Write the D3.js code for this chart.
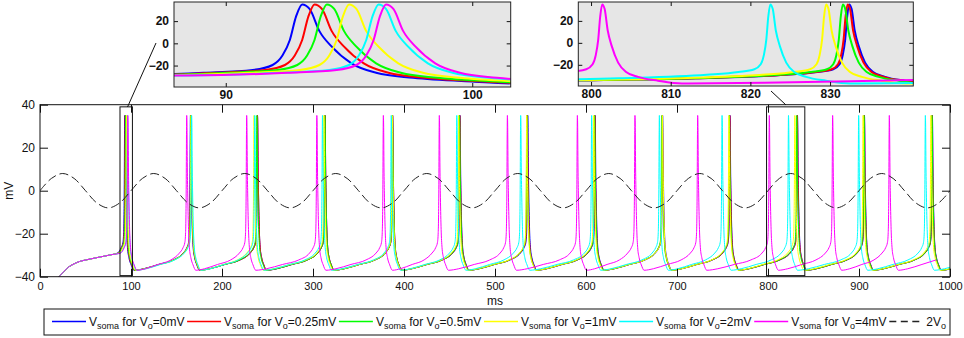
<!DOCTYPE html>
<html>
<head>
<meta charset="utf-8">
<script src="https://cdn.jsdelivr.net/npm/d3@7"></script>
<style>
body { margin: 0; background: #fff; }
svg { display: block; font-family: "Liberation Sans", Arial, sans-serif; }
text { white-space: pre; }
</style>
</head>
<body>
<svg width="964" height="338"></svg>
<script>
//spike peak times (ms), one list per V_o
var spikes_0   = [93.1, 165.3, 239.0, 313.2, 387.5, 461.5, 536.0, 610.0, 684.2, 758.2, 832.4, 906.0, 980.6];
var spikes_025 = [93.6, 165.6, 239.0, 313.2, 387.5, 461.3, 535.5, 609.7, 683.8, 758.0, 832.2, 905.8, 980.4];
var spikes_05  = [94.1, 165.9, 238.3, 313.0, 387.3, 461.0, 535.0, 609.4, 683.5, 757.5, 831.6, 905.5, 980.2];
var spikes_1   = [95.0, 166.0, 235.2, 312.0, 387.0, 460.0, 534.8, 608.5, 684.0, 757.0, 829.5, 904.5, 979.0];
var spikes_2   = [96.2, 166.6, 236.0, 310.4, 386.0, 458.0, 528.2, 606.2, 680.6, 749.5, 822.5, 899.6, 972.9];
var spikes_4   = [96.5, 161.2, 227.1, 304.2, 377.3, 438.8, 513.6, 590.5, 653.8, 722.7, 801.4, 871.0, 933.3];

//shape of one spike: [ms from peak, mV]
var spikeShape = [[-8, -29], [-4, -26.5], [-2, -24], [-1.2, -19.5], [-0.8, -11], [-0.5, 3], [-0.25, 24],
                  [0, 35], [0.3, 31], [0.7, 11], [1.2, -3], [2, -18], [3, -26.5], [4.5, -31], [7, -34.5], [10, -37]];
//slow recovery between spikes: [fraction of the gap, mV]
var recovery = [[0.2, -36.3], [0.5, -34.3], [0.8, -32.2]];
//start of the run before the first spike: [ms, mV]
var onset = [[15, -43], [22, -39.5], [30, -36], [40, -33.5], [55, -31.8], [70, -30.5], [78, -29.8]];

//2Vo drive, sampled every 12.5 ms from 0 to 1000
var driveStep = 12.5;
var drive = [0, 5.7, 8, 5.7, 0, -5.7, -8, -5.7, 0, 5.7, 8, 5.7, 0, -5.7, -8, -5.7,
             0, 5.7, 8, 5.7, 0, -5.7, -8, -5.7, 0, 5.7, 8, 5.7, 0, -5.7, -8, -5.7,
             0, 5.7, 8, 5.7, 0, -5.7, -8, -5.7, 0, 5.7, 8, 5.7, 0, -5.7, -8, -5.7,
             0, 5.7, 8, 5.7, 0, -5.7, -8, -5.7, 0, 5.7, 8, 5.7, 0, -5.7, -8, -5.7,
             0, 5.7, 8, 5.7, 0, -5.7, -8, -5.7, 0, 5.7, 8, 5.7, 0, -5.7, -8, -5.7, 0];

var voLabels = ["0", "0.25", "0.5", "1", "2", "4"];
var xTicks = [0, 100, 200, 300, 400, 500, 600, 700, 800, 900, 1000];
var yTicks = [-40, -20, 0, 20, 40];
var inset1Ticks = [90, 100];
var inset2Ticks = [800, 810, 820, 830];
var insetYTicks = [-20, 0, 20];

var allSpikes = [spikes_0, spikes_025, spikes_05, spikes_1, spikes_2, spikes_4];
var colors = ["#0000ff", "#ff0000", "#00ff00", "#ffff00", "#00ffff", "#ff00ff"];

var svg = d3.select("svg");

//turn spike times into a trace
function buildTrace(spikes) {
    var pts = onset.slice();
    var meanGap = (spikes[spikes.length - 1] - spikes[0]) / (spikes.length - 1);
    spikes.forEach(function(s, i) {
        spikeShape.forEach(function(p) { pts.push([s + p[0], p[1]]); });
        var next = i < spikes.length - 1 ? spikes[i + 1] : s + meanGap;
        var a = s + 10, b = next - 8;
        recovery.forEach(function(r) { pts.push([a + r[0] * (b - a), r[1]]); });
    });
    return pts;
}
var traces = allSpikes.map(buildTrace);

var x = d3.scaleLinear().domain([0, 1000]).range([40, 950]);
var y = d3.scaleLinear().domain([-40, 40]).range([276.7, 104.7]);

var in1 = {
    x: d3.scaleLinear().domain([87.9, 101.56]).range([174, 510.7]),
    y: d3.scaleLinear().domain([-39.3, 37.2]).range([87, 2]),
    ticks: inset1Ticks, id: "c1"
};
var in2 = {
    x: d3.scaleLinear().domain([798.4, 840.45]).range([578.3, 913.3]),
    y: d3.scaleLinear().domain([-39.3, 37.2]).range([86, 2]),
    ticks: inset2Ticks, id: "c2"
};

var defs = svg.append("defs");
function addClip(id, xs, ys) {
    defs.append("clipPath").attr("id", id).append("rect")
        .attr("x", xs.range()[0]).attr("y", ys.range()[1])
        .attr("width", xs.range()[1] - xs.range()[0])
        .attr("height", ys.range()[0] - ys.range()[1]);
}
addClip("cm", x, y);
addClip(in1.id, in1.x, in1.y);
addClip(in2.id, in2.x, in2.y);

function drawTraces(g, xs, ys, w) {
    var line = d3.line()
        .x(function(d) { return xs(d[0]); })
        .y(function(d) { return ys(d[1]); })
        .curve(d3.curveMonotoneX);
    g.selectAll("path.trace")
        .data(traces)
        .enter().append("path")
        .attr("class", "trace")
        .attr("d", line)
        .attr("fill", "none")
        .attr("stroke", function(d, i) { return colors[i]; })
        .attr("stroke-width", w);
}

//main axes
svg.append("rect")
    .attr("x", 40).attr("y", y(40)).attr("width", 910).attr("height", y(-40) - y(40))
    .attr("fill", "#fff");

var plot = svg.append("g").attr("clip-path", "url(#cm)");
drawTraces(plot, x, y, 1);

var driveLine = d3.line()
    .x(function(d, i) { return x(i * driveStep); })
    .y(function(d) { return y(d); })
    .curve(d3.curveCatmullRom);
plot.append("path")
    .attr("d", driveLine(drive))
    .attr("fill", "none")
    .attr("stroke", "#222")
    .attr("stroke-width", 1)
    .attr("stroke-dasharray", "9,4");

function styleAxis(g, size, bold) {
    g.select(".domain").remove();
    g.selectAll(".tick line").attr("stroke", "#111");
    g.attr("font-family", "'Liberation Sans', Arial, sans-serif")
     .attr("font-size", size)
     .attr("font-weight", bold ? "bold" : "normal");
    g.selectAll(".tick text").attr("fill", "#111");
}

var fmt = d3.format("d");
svg.append("g").attr("transform", "translate(0," + y(-40) + ")")
    .call(d3.axisBottom(x).tickValues(xTicks).tickSize(-8).tickPadding(6).tickFormat(fmt))
    .call(styleAxis, 11);
svg.append("g").attr("transform", "translate(0," + y(40) + ")")
    .call(d3.axisTop(x).tickValues(xTicks).tickSize(-8).tickFormat(""))
    .call(styleAxis, 11);
svg.append("g").attr("transform", "translate(40,0)")
    .call(d3.axisLeft(y).tickValues(yTicks).tickSize(-8).tickPadding(5).tickFormat(fmt))
    .call(styleAxis, 12);
svg.append("g").attr("transform", "translate(950,0)")
    .call(d3.axisRight(y).tickValues(yTicks).tickSize(-8).tickFormat(""))
    .call(styleAxis, 12);

svg.append("rect")
    .attr("x", 40).attr("y", y(40)).attr("width", 910).attr("height", y(-40) - y(40))
    .attr("fill", "none").attr("stroke", "#111").attr("stroke-width", 1);

svg.append("text")
    .attr("x", 495).attr("y", 305)
    .attr("text-anchor", "middle").attr("font-size", 12).attr("fill", "#111")
    .text("ms");
svg.append("text")
    .attr("transform", "translate(13," + y(0) + ") rotate(-90)")
    .attr("text-anchor", "middle").attr("font-size", 12).attr("fill", "#111")
    .text("mV");

//zoom boxes on the main axes and their connectors
[in1, in2].forEach(function(ins) {
    var d = ins.x.domain();
    svg.append("rect")
        .attr("x", x(d[0])).attr("y", y(39))
        .attr("width", x(d[1]) - x(d[0])).attr("height", y(-39.5) - y(39))
        .attr("fill", "none").attr("stroke", "#111").attr("stroke-width", 1);
});
svg.append("line").attr("x1", 156).attr("y1", 43).attr("x2", 127.5).attr("y2", 107)
    .attr("stroke", "#111");
svg.append("line").attr("x1", 771).attr("y1", 91).attr("x2", 786).attr("y2", 105)
    .attr("stroke", "#111");

//insets
[in1, in2].forEach(function(ins) {
    var xr = ins.x.range(), yr = ins.y.range();
    svg.append("rect")
        .attr("x", xr[0]).attr("y", yr[1]).attr("width", xr[1] - xr[0]).attr("height", yr[0] - yr[1])
        .attr("fill", "#e6e6e6");
    var g = svg.append("g").attr("clip-path", "url(#" + ins.id + ")");
    drawTraces(g, ins.x, ins.y, 2);

    svg.append("g").attr("transform", "translate(0," + yr[0] + ")")
        .call(d3.axisBottom(ins.x).tickValues(ins.ticks).tickSize(-4).tickPadding(3).tickFormat(fmt))
        .call(styleAxis, 12, true);
    svg.append("g").attr("transform", "translate(0," + yr[1] + ")")
        .call(d3.axisTop(ins.x).tickValues(ins.ticks).tickSize(-4).tickFormat(""))
        .call(styleAxis, 12, true);
    svg.append("g").attr("transform", "translate(" + xr[0] + ",0)")
        .call(d3.axisLeft(ins.y).tickValues(insetYTicks).tickSize(-4).tickPadding(5).tickFormat(fmt))
        .call(styleAxis, 12, true);
    svg.append("g").attr("transform", "translate(" + xr[1] + ",0)")
        .call(d3.axisRight(ins.y).tickValues(insetYTicks).tickSize(-4).tickFormat(""))
        .call(styleAxis, 12, true);
    svg.append("rect")
        .attr("x", xr[0]).attr("y", yr[1]).attr("width", xr[1] - xr[0]).attr("height", yr[0] - yr[1])
        .attr("fill", "none").attr("stroke", "#222").attr("stroke-width", 1);
});

//legend
var legendBox = svg.append("rect")
    .attr("x", 44).attr("y", 309).attr("width", 906).attr("height", 26)
    .attr("fill", "#fff").attr("stroke", "#111").attr("stroke-width", 1);

var items = voLabels.map(function(v, i) {
    return { color: colors[i], dash: null, vo: v };
});
items.push({ color: "#222", dash: "7,4.5", vo: null });

var lineLen = 34, lineGap = 3, rowY = 321.5, textY = 325.5;

var labels = svg.selectAll("text.leg")
    .data(items)
    .enter().append("text")
    .attr("class", "leg")
    .attr("y", textY)
    .attr("font-size", 12)
    .attr("fill", "#111")
    .each(function(it) {
        var t = d3.select(this);
        if (it.vo !== null) {
            t.append("tspan").text("V");
            t.append("tspan").attr("font-size", 9).attr("dy", 3).text("soma");
            t.append("tspan").attr("dy", -3).text(" for V");
            t.append("tspan").attr("font-size", 9).attr("dy", 3).text("o");
            t.append("tspan").attr("dy", -3).text("=" + it.vo + "mV");
        } else {
            t.append("tspan").text("2V");
            t.append("tspan").attr("font-size", 9).attr("dy", 3).text("o");
        }
        it.w = lineLen + lineGap + this.getComputedTextLength();
    });

var totalW = d3.sum(items, function(d) { return d.w; });
var space = (946 - 52 - totalW) / (items.length - 1);
var cx = 52;
items.forEach(function(it) {
    it.x0 = cx;
    cx += it.w + space;
});

labels.attr("x", function(d) { return d.x0 + lineLen + lineGap; });

svg.selectAll("line.leg")
    .data(items)
    .enter().append("line")
    .attr("class", "leg")
    .attr("x1", function(d) { return d.x0; })
    .attr("x2", function(d) { return d.x0 + lineLen; })
    .attr("y1", rowY).attr("y2", rowY)
    .attr("stroke", function(d) { return d.color; })
    .attr("stroke-width", 1.3)
    .attr("stroke-dasharray", function(d) { return d.dash; });
</script>
</body>
</html>
